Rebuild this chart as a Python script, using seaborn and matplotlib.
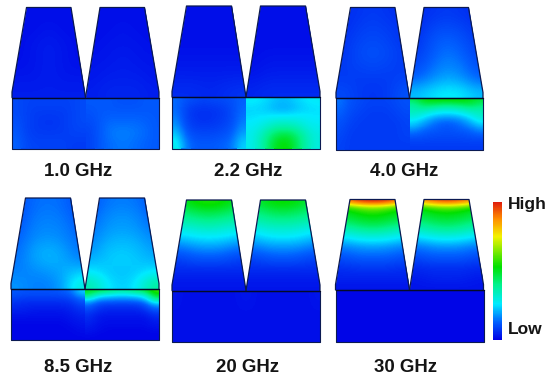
import matplotlib
matplotlib.use("Agg")
import matplotlib.pyplot as plt
import numpy as np
import seaborn as sns
from matplotlib.colors import LinearSegmentedColormap
from matplotlib.patches import Polygon
from matplotlib.transforms import Affine2D

sns.set_theme(style="white")
plt.rcParams["font.family"] = ["Liberation Sans", "DejaVu Sans"]

FREQ_LABELS = ["1.0 GHz", "2.2 GHz", "4.0 GHz", "8.5 GHz", "20 GHz", "30 GHz"]
SCALE_LABELS = ["High", "Low"]

# Field strength, in percent of the colour scale.
# Rows run top to bottom, columns left to right.
T1L = [[2,2,2,2,2],[2,2,3,2,2],[2,3,4,3,2],[2,3,4,3,2],[3,3,4,3,3],[4,4,4,4,4]]
T1R = [[2,2,2,2,2],[2,2,3,2,2],[2,3,3,3,2],[3,3,4,3,3],[3,4,4,4,3],[4,5,5,5,4]]
S1L = [[10,9,9,9,9,9,9,10],[10,9,8,8,8,8,9,10],[11,9,8,7,7,8,9,10],[12,9,8,8,8,8,9,9],[13,10,9,9,9,9,8,8]]
S1R = [[12,12,12,11,11,11,12,12],[11,12,12,12,12,12,12,12],[10,12,14,14,14,14,13,12],[9,12,15,16,16,15,14,12],[9,12,14,15,15,14,13,12]]

T2L = [[2,2,2,2,2],[2,2,2,2,2],[2,2,2,2,2],[3,3,3,3,3],[4,4,4,4,4],[6,6,5,6,7]]
T2R = [[2,2,2,2,2],[2,2,2,2,2],[2,2,2,2,2],[2,3,3,3,3],[3,4,4,4,4],[5,6,6,6,6]]
S2L = [[14,11,10,9,10,10,11,13],[14,9,7,7,7,8,10,14],[16,9,7,6,7,8,10,15],[19,10,8,8,8,9,11,17],[24,13,10,10,10,11,13,20],[29,16,12,12,12,13,15,24]]
S2R = [[27,26,24,22,22,24,26,27],[24,24,22,20,20,22,24,25],[25,26,27,28,28,28,27,26],[27,29,33,36,36,34,30,28],[28,33,41,47,48,43,35,30],[28,34,44,52,53,45,36,30]]

T3L = [[6,7,8,7,6],[6,8,9,8,7],[7,9,10,9,7],[7,10,11,10,8],[8,9,10,9,8],[8,8,8,8,9],[10,8,7,8,11]]
T3R = [[6,7,8,7,6],[6,9,10,9,7],[7,11,13,11,8],[8,12,15,13,9],[10,14,17,15,11],[13,17,20,18,13],[22,25,27,26,22]]
S3L = [[15,11,10,9,9,9,10,11],[13,10,9,8,8,8,9,10],[11,9,8,8,8,8,8,9],[10,8,8,8,8,8,8,9],[9,8,8,8,8,8,8,8]]
S3R = [[45,52,54,54,54,54,52,48],[38,45,44,42,42,44,46,42],[35,36,32,30,30,32,36,36],[32,28,24,22,22,24,28,33],[26,22,17,15,15,17,22,28],[22,17,14,12,12,14,17,22],[16,13,12,11,11,12,13,16],[12,11,10,10,10,10,11,12],[9,9,9,9,9,9,9,9],[8,8,8,8,8,8,8,8]]

T4L = [[11,14,15,14,11],[11,15,16,15,12],[12,16,17,16,13],[13,17,18,17,14],[14,19,21,19,15],[15,19,21,20,17],[16,17,18,20,23],[18,16,16,19,30]]
T4R = [[12,15,16,15,12],[13,17,18,17,13],[15,18,19,18,15],[16,20,21,20,17],[18,22,23,22,19],[21,23,24,23,21],[26,23,22,23,26],[36,26,23,26,38]]
S4L = [[12,11,11,11,11,12,14,24],[9,8,8,8,8,8,9,14],[6,5,5,5,5,5,6,9],[4,4,3,3,3,3,4,6],[2,2,2,2,2,2,3,4],[1,1,1,1,1,1,2,3],[1,1,1,1,1,1,1,2],[1,1,1,1,1,1,1,1]]
S4R = [[50,46,42,38,38,42,46,58],[42,28,26,24,24,26,30,50],[26,18,17,16,16,17,20,38],[16,10,9,9,9,9,12,22],[11,7,6,6,6,6,8,14],[8,5,4,4,4,4,5,9],[6,3,3,3,3,3,3,6],[5,3,2,2,2,2,2,4],[4,2,2,2,2,2,2,3],[3,2,1,1,1,1,1,2],[2,1,1,1,1,1,1,1],[1,1,1,1,1,1,1,1]]

T5L = [[48,54,56,54,48],[42,46,48,46,42],[37,39,41,39,37],[30,32,34,32,30],[24,26,27,26,24],[17,20,21,20,17],[12,14,15,14,12],[8,10,10,10,8],[6,6,6,6,6],[4,4,4,4,4],[3,3,3,3,3]]
T5R = [[46,52,54,52,46],[41,45,47,45,41],[36,39,40,39,36],[29,32,33,32,29],[23,26,27,26,23],[17,20,20,20,17],[12,14,15,14,12],[8,10,10,10,8],[6,6,6,6,6],[4,4,4,4,4],[3,3,3,3,3]]
S5L = [[3,2,2,2,2,2,2,3],[2,2,2,2,2,2,2,2],[2,2,2,2,2,2,2,2]]
S5R = [[3,2,2,2,2,2,2,3],[2,2,2,2,2,2,2,2],[2,2,2,2,2,2,2,2]]

T6L = [[85,97,100,97,85],[54,62,66,62,54],[49,53,56,53,49],[46,49,51,49,46],[40,44,46,44,40],[33,37,39,37,33],[27,30,31,30,27],[21,24,25,24,21],[16,18,19,18,16],[13,15,15,15,13],[10,12,12,12,10],[8,9,9,9,8],[6,7,7,7,6],[5,5,5,5,5],[4,4,4,4,4],[3,3,3,3,3]]
T6R = [[82,92,96,92,82],[52,59,62,59,52],[47,51,53,51,47],[44,47,49,47,44],[38,42,44,42,38],[32,36,38,36,32],[26,29,30,29,26],[20,23,24,23,20],[15,17,18,17,15],[12,14,14,14,12],[9,11,11,11,9],[7,8,8,8,7],[5,6,6,6,5],[4,5,5,5,4],[3,4,4,4,3],[3,3,3,3,3]]
S6L = [[1,1,1,1,1,1,1,1],[1,1,1,1,1,1,1,1],[1,1,1,1,1,1,1,1]]
S6R = [[1,1,1,1,1,1,1,1],[1,1,1,1,1,1,1,1],[1,1,1,1,1,1,1,1]]

FIELDS = [
    (T1L, T1R, S1L, S1R), (T2L, T2R, S2L, S2R), (T3L, T3R, S3L, S3R),
    (T4L, T4R, S4L, S4R), (T5L, T5R, S5L, S5R), (T6L, T6R, S6L, S6R),
]

# x0, x1, tooth top, tooth base, substrate bottom (image pixels)
PANELS = [
    (12, 159, 7.5, 97.5, 148.5), (172, 320, 6, 97, 148.5), (336, 483, 7.5, 98, 149.5),
    (11, 159, 198, 289, 340), (172, 320, 200, 290.5, 342), (335.5, 483.5, 199.5, 290, 342),
]
LABEL_POS = [(78, 171), (248, 171), (404, 171), (78, 368), (248, 368), (406, 368)]

W, H = 550, 383
cmap = LinearSegmentedColormap.from_list("field", [
    (0.00, (0.00, 0.00, 0.90)), (0.13, (0.00, 0.38, 1.00)), (0.26, (0.00, 0.92, 1.00)),
    (0.40, (0.00, 0.95, 0.55)), (0.53, (0.00, 0.88, 0.00)), (0.75, (0.95, 0.95, 0.00)),
    (0.88, (1.00, 0.55, 0.00)), (1.00, (0.88, 0.12, 0.05)),
])

fig = plt.figure(figsize=(W / 100, H / 100), dpi=100, facecolor="white")
to_display = Affine2D().scale(1, -1).translate(0, H)


def block(grid, x0, x1, y0, y1, clip=None):
    ax = fig.add_axes([x0 / W, 1 - y1 / H, (x1 - x0) / W, (y1 - y0) / H])
    data = np.array(grid, dtype=float)
    sns.heatmap(data, ax=ax, cmap=cmap, vmin=0, vmax=100, cbar=False,
                xticklabels=False, yticklabels=False)
    mesh = ax.collections[0]
    rows, cols = data.shape
    # same cells, same scale: the picture shows the field as a continuous shade
    smooth = ax.imshow(data, cmap=mesh.cmap, norm=mesh.norm, extent=(0, cols, rows, 0),
                       aspect="auto", interpolation="bicubic", interpolation_stage="data",
                       zorder=3)
    ax.set_xlim(0, cols)
    ax.set_ylim(rows, 0)
    ax.axis("off")
    if clip is not None:
        patch = Polygon(clip, closed=True, transform=to_display)
        mesh.set_clip_path(patch)
        smooth.set_clip_path(patch)


outlines = []
for (x0, x1, top, base, bottom), (tl, tr, sl, sr) in zip(PANELS, FIELDS):
    mid = (x0 + x1) / 2
    inset = 14.5
    corner = base - 5.5
    left = [(x0, base), (x0, corner), (x0 + inset, top), (mid - inset, top), (mid, base)]
    right = [(mid, base), (mid + inset, top), (x1 - inset, top), (x1, corner), (x1, base)]
    block(tl, x0, mid, top, base, left)
    block(tr, mid, x1, top, base, right)
    block(sl, x0, mid, base, bottom)
    block(sr, mid, x1, base, bottom)
    outlines.append((left, right, (x0, x1, base, bottom)))

# colour bar, drawn by seaborn's own heatmap colourbar
cbar_ax = fig.add_axes([493 / W, 1 - 340 / H, 8.5 / W, 138 / H])
hidden = fig.add_axes([0, 0, 0.001, 0.001])
sns.heatmap([[0, 100]], ax=hidden, cmap=cmap, vmin=0, vmax=100, cbar_ax=cbar_ax,
            xticklabels=False, yticklabels=False, cbar_kws={"ticks": []})
hidden.collections[0].colorbar.outline.set_visible(False)
hidden.axis("off")
hidden.collections[0].set_visible(False)

over = fig.add_axes([0, 0, 1, 1])
over.set_xlim(0, W)
over.set_ylim(H, 0)
over.axis("off")
line = "#0b1a52"
for left, right, (x0, x1, base, bottom) in outlines:
    over.plot(*zip(*left), color=line, lw=0.9)
    over.plot(*zip(*right), color=line, lw=0.9)
    over.plot([x0, x1, x1, x0, x0], [base, base, bottom, bottom, base], color=line, lw=0.8)
    over.plot([x0, x1], [base, base], color="#050a28", lw=1.0)

for label, (x, y) in zip(FREQ_LABELS, LABEL_POS):
    over.text(x, y, label, ha="center", va="center", fontsize=13.4, fontweight="bold", color="#141414")
over.text(508, 204, SCALE_LABELS[0], ha="left", va="center", fontsize=12.5, fontweight="bold", color="#141414")
over.text(508, 329, SCALE_LABELS[1], ha="left", va="center", fontsize=12.5, fontweight="bold", color="#141414")

fig.savefig("out.png", dpi=100, facecolor="white")
